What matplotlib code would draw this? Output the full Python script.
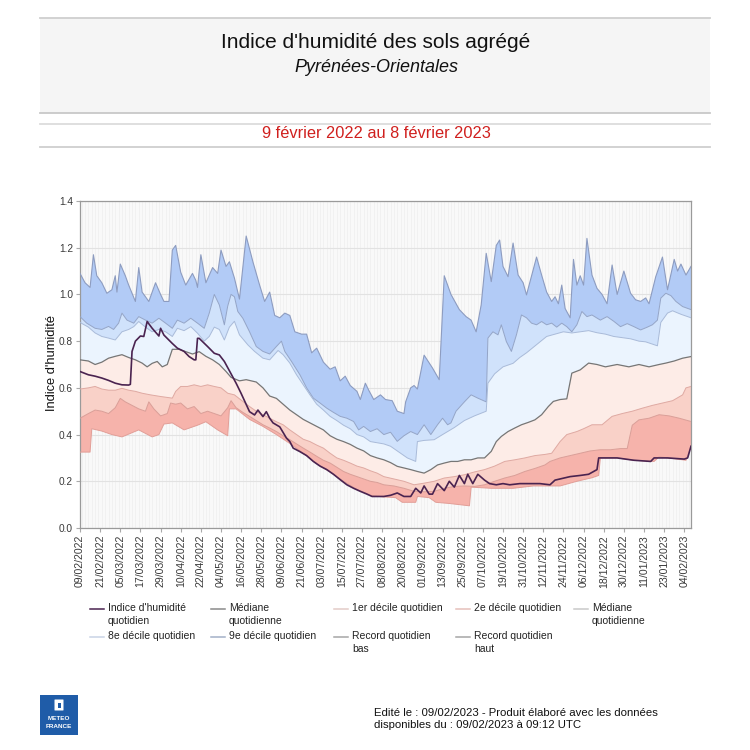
import matplotlib
matplotlib.use('Agg')
import matplotlib.pyplot as plt
import matplotlib.dates as mdates
from matplotlib.patches import Rectangle, FancyBboxPatch
from datetime import datetime, timedelta
import numpy as np

plt.rcParams['font.family'] = ['Liberation Sans', 'DejaVu Sans']

start = datetime(2022, 2, 9)
end_day = 364

# record quotidien haut
rh_days = [0, 3, 6, 8, 10, 13, 16, 19, 21, 22, 24, 27, 29, 33, 35, 37, 41, 45, 48, 50, 53, 55, 57, 60, 63, 67, 69, 70,
           72, 75, 79, 82, 84, 87, 89, 92, 95, 99, 103, 107, 110, 113, 116, 119, 122, 125, 128, 132, 135, 138, 141,
           145, 149, 152, 155, 158, 161, 165, 167, 170, 172, 175, 179, 182, 186, 189, 193, 194, 197, 199, 201, 205,
           210, 214, 217, 221, 226, 230, 233, 236, 239, 242, 245, 248, 250, 252, 255, 258, 261, 264, 266, 272, 275,
           278, 281, 283, 285, 287, 289, 292, 294, 296, 298, 300, 302, 305, 308, 311, 314, 317, 320, 324, 328, 331,
           334, 337, 339, 343, 347, 350, 354, 356, 358, 361, 364]
rh_vals = [1.09, 1.05, 1.03, 1.17, 1.08, 1.05, 1.005, 1.02, 1.08, 1.01, 1.13, 1.08, 1.04, 0.97, 1.115, 1.01, 0.97,
           1.05, 1.0, 0.97, 0.97, 1.19, 1.21, 1.095, 1.04, 1.09, 1.06, 1.03, 1.17, 1.05, 1.115, 1.09, 1.19, 1.12,
           1.14, 1.07, 0.98, 1.25, 1.14, 1.04, 0.97, 1.01, 0.91, 0.90, 0.92, 0.91, 0.84, 0.83, 0.83, 0.75, 0.77,
           0.71, 0.68, 0.69, 0.63, 0.65, 0.61, 0.585, 0.55, 0.62, 0.59, 0.55, 0.57, 0.55, 0.545, 0.50, 0.49, 0.54,
           0.60, 0.61, 0.595, 0.74, 0.685, 0.635, 1.08, 1.0, 0.935, 0.905, 0.89, 0.84, 0.955, 1.176, 1.055, 1.21,
           1.233, 1.12, 1.076, 1.22, 1.083, 1.05, 0.998, 1.16, 1.083, 1.01, 0.97, 0.99, 0.96, 1.04, 0.94, 0.90,
           1.15, 1.04, 1.08, 1.04, 1.24, 1.083, 1.026, 1.0, 0.96, 1.126, 1.0, 1.1, 1.005, 0.977, 0.97, 0.985, 0.96,
           1.076, 1.16, 1.02, 1.15, 1.1, 1.13, 1.083, 1.12]

# 9e decile
d9_days = [0, 4, 9, 13, 17, 20, 23, 25, 28, 32, 35, 39, 43, 47, 51, 55, 58, 62, 66, 70, 74, 77, 80, 83, 86, 88, 90,
           92, 94, 97, 101, 105, 109, 113, 117, 120, 122, 126, 131, 135, 139, 143, 147, 151, 155, 159, 163, 166,
           169, 173, 177, 181, 185, 189, 193, 197, 201, 205, 209, 213, 216, 219, 221, 224, 229, 233, 237, 242, 243,
           246, 249, 251, 254, 257, 260, 263, 266, 269, 272, 275, 278, 281, 284, 287, 290, 293, 296, 299, 302, 305,
           310, 314, 318, 322, 326, 330, 334, 338, 341, 344, 346, 349, 352, 355, 359, 364]
d9_vals = [0.905, 0.877, 0.855, 0.85, 0.863, 0.85, 0.877, 0.92, 0.89, 0.877, 0.905, 0.89, 0.877, 0.898, 0.877,
           0.855, 0.89, 0.877, 0.898, 0.877, 0.855, 0.92, 1.0, 0.955, 0.87, 0.95, 1.0, 0.99, 0.927, 0.898, 0.84,
           0.777, 0.756, 0.745, 0.777, 0.80, 0.756, 0.713, 0.656, 0.60, 0.556, 0.535, 0.513, 0.495, 0.478, 0.47,
           0.456, 0.42, 0.435, 0.413, 0.425, 0.40, 0.41, 0.371, 0.395, 0.413, 0.40, 0.442, 0.40, 0.442, 0.47, 0.442,
           0.45, 0.50, 0.54, 0.57, 0.556, 0.54, 0.813, 0.84, 0.827, 0.87, 0.798, 0.756, 0.827, 0.912, 0.90, 0.877,
           0.87, 0.884, 0.87, 0.877, 0.86, 0.877, 0.862, 0.84, 0.87, 0.927, 0.905, 0.912, 0.89, 0.905, 0.885,
           0.862, 0.875, 0.862, 0.848, 0.86, 0.87, 0.89, 0.984, 1.005, 0.995, 0.97, 0.948, 0.935]

# 8e decile
d8_days = [0, 5, 9, 13, 17, 21, 25, 29, 32, 35, 39, 43, 47, 51, 55, 58, 62, 66, 70, 74, 77, 80, 83, 86, 89, 92, 95,
           100, 104, 109, 113, 118, 121, 125, 129, 133, 137, 141, 145, 149, 153, 157, 161, 165, 169, 173, 177, 181,
           185, 189, 195, 200, 201, 205, 211, 216, 223, 229, 235, 242, 243, 247, 252, 258, 262, 266, 272, 278, 283,
           288, 293, 298, 303, 308, 313, 318, 323, 328, 333, 337, 344, 346, 350, 353, 358, 364]
d8_vals = [0.88, 0.86, 0.835, 0.82, 0.813, 0.805, 0.84, 0.85, 0.862, 0.884, 0.86, 0.84, 0.85, 0.84, 0.82, 0.855,
           0.845, 0.862, 0.834, 0.80, 0.82, 0.86, 0.85, 0.805, 0.86, 0.885, 0.827, 0.784, 0.756, 0.727, 0.72, 0.76,
           0.742, 0.706, 0.656, 0.613, 0.57, 0.53, 0.505, 0.478, 0.46, 0.44, 0.425, 0.40, 0.39, 0.37, 0.365, 0.36,
           0.35, 0.33, 0.30, 0.285, 0.37, 0.375, 0.378, 0.40, 0.43, 0.46, 0.48, 0.50, 0.62, 0.66, 0.69, 0.705, 0.73,
           0.75, 0.785, 0.82, 0.83, 0.84, 0.835, 0.84, 0.845, 0.836, 0.83, 0.82, 0.815, 0.81, 0.80, 0.797, 0.78,
           0.88, 0.92, 0.93, 0.915, 0.90]

# mediane quotidienne
med_days = [0, 5, 9, 13, 17, 21, 25, 29, 33, 37, 40, 43, 46, 49, 52, 55, 59, 63, 67, 71, 75, 79, 83, 87, 90, 95, 99,
            105, 109, 113, 117, 121, 125, 129, 133, 137, 141, 145, 149, 153, 157, 161, 165, 169, 173, 177, 181, 185,
            189, 193, 197, 201, 205, 209, 213, 217, 221, 225, 229, 233, 237, 241, 245, 248, 251, 255, 259, 263, 267,
            271, 275, 279, 282, 286, 290, 293, 298, 303, 308, 313, 320, 327, 333, 339, 345, 349, 354, 359, 364]
med_vals = [0.72, 0.715, 0.70, 0.71, 0.727, 0.735, 0.742, 0.73, 0.72, 0.706, 0.69, 0.705, 0.713, 0.69, 0.70, 0.765,
            0.765, 0.755, 0.745, 0.755, 0.735, 0.72, 0.70, 0.67, 0.645, 0.63, 0.635, 0.625, 0.60, 0.565, 0.555,
            0.53, 0.505, 0.485, 0.465, 0.45, 0.435, 0.42, 0.395, 0.38, 0.37, 0.358, 0.342, 0.33, 0.31, 0.30, 0.292,
            0.28, 0.264, 0.257, 0.25, 0.242, 0.235, 0.25, 0.27, 0.278, 0.285, 0.285, 0.292, 0.292, 0.30, 0.30,
            0.328, 0.37, 0.392, 0.413, 0.428, 0.442, 0.452, 0.463, 0.485, 0.52, 0.542, 0.55, 0.553, 0.663, 0.677,
            0.706, 0.70, 0.69, 0.70, 0.69, 0.70, 0.69, 0.70, 0.706, 0.715, 0.727, 0.734]

# 2e decile
d2_days = [0, 5, 9, 13, 17, 21, 25, 29, 33, 37, 42, 48, 55, 57, 60, 64, 68, 72, 76, 80, 84, 88, 92, 97, 101, 105,
           109, 113, 117, 121, 125, 129, 133, 137, 141, 145, 149, 153, 157, 161, 165, 169, 173, 177, 181, 187, 193,
           199, 205, 211, 217, 223, 229, 235, 241, 247, 253, 259, 265, 271, 277, 281, 286, 290, 296, 300, 305, 311,
           317, 323, 329, 335, 341, 347, 353, 359, 361, 364]
d2_vals = [0.595, 0.60, 0.606, 0.595, 0.59, 0.59, 0.598, 0.59, 0.585, 0.577, 0.57, 0.563, 0.556, 0.585, 0.606,
           0.606, 0.613, 0.606, 0.613, 0.606, 0.60, 0.577, 0.57, 0.542, 0.52, 0.50, 0.485, 0.47, 0.455, 0.442,
           0.42, 0.40, 0.38, 0.37, 0.355, 0.342, 0.32, 0.30, 0.29, 0.278, 0.265, 0.257, 0.245, 0.235, 0.22, 0.21,
           0.20, 0.185, 0.192, 0.20, 0.214, 0.22, 0.228, 0.24, 0.25, 0.265, 0.285, 0.292, 0.30, 0.31, 0.315, 0.32,
           0.37, 0.40, 0.413, 0.425, 0.442, 0.442, 0.478, 0.49, 0.50, 0.513, 0.525, 0.535, 0.545, 0.57, 0.60, 0.606]

# 1er decile
d1_days = [0, 5, 9, 13, 17, 21, 24, 27, 31, 35, 39, 41, 44, 48, 52, 54, 57, 60, 64, 68, 72, 76, 80, 84, 88, 90, 93,
           97, 101, 105, 109, 113, 117, 121, 125, 129, 133, 137, 141, 145, 149, 153, 157, 161, 165, 169, 173, 177,
           181, 187, 193, 199, 205, 211, 217, 223, 229, 235, 241, 247, 253, 259, 265, 271, 277, 280, 286, 292, 298,
           304, 310, 316, 322, 326, 329, 333, 339, 345, 351, 357, 364]
d1_vals = [0.47, 0.49, 0.505, 0.50, 0.49, 0.515, 0.555, 0.54, 0.525, 0.51, 0.50, 0.54, 0.51, 0.48, 0.49, 0.535,
           0.53, 0.535, 0.51, 0.52, 0.49, 0.50, 0.49, 0.48, 0.515, 0.545, 0.515, 0.495, 0.478, 0.46, 0.442, 0.428,
           0.413, 0.395, 0.378, 0.36, 0.342, 0.325, 0.307, 0.29, 0.278, 0.26, 0.242, 0.23, 0.22, 0.21, 0.20, 0.195,
           0.185, 0.18, 0.17, 0.157, 0.155, 0.157, 0.17, 0.178, 0.18, 0.178, 0.185, 0.20, 0.214, 0.225, 0.242,
           0.255, 0.27, 0.285, 0.30, 0.31, 0.32, 0.33, 0.335, 0.335, 0.34, 0.34, 0.44, 0.463, 0.47, 0.485, 0.48,
           0.47, 0.456]

# record quotidien bas
rl_days = [0, 6, 7, 13, 19, 25, 35, 43, 47, 50, 55, 62, 70, 75, 82, 88, 89, 93, 101, 109, 117, 125, 133, 141, 149,
           157, 165, 173, 181, 188, 192, 200, 201, 208, 212, 220, 232, 233, 245, 258, 270, 286, 296, 305, 309, 310,
           320, 330, 342, 345, 361, 364]
rl_vals = [0.325, 0.325, 0.425, 0.415, 0.40, 0.39, 0.42, 0.39, 0.40, 0.445, 0.45, 0.42, 0.44, 0.455, 0.42, 0.395,
           0.51, 0.51, 0.465, 0.435, 0.40, 0.362, 0.32, 0.275, 0.24, 0.20, 0.165, 0.14, 0.133, 0.13, 0.11, 0.11,
           0.135, 0.13, 0.11, 0.105, 0.095, 0.175, 0.17, 0.17, 0.18, 0.18, 0.20, 0.215, 0.225, 0.30, 0.30, 0.29,
           0.285, 0.305, 0.29, 0.35]

# indice d'humidite quotidien 2022-2023
idx_days = [0, 5, 9, 13, 17, 21, 25, 29, 30, 31, 33, 36, 38, 40, 43, 47, 48, 50, 55, 58, 62, 65, 68, 69, 70, 71, 76,
            80, 83, 86, 90, 93, 96, 101, 104, 106, 109, 111, 113, 115, 119, 123, 125, 127, 131, 135, 139, 143, 147,
            151, 155, 159, 163, 167, 171, 174, 177, 181, 185, 189, 193, 197, 200, 203, 205, 208, 210, 213, 217, 220,
            223, 226, 229, 231, 234, 237, 241, 244, 248, 252, 256, 262, 268, 274, 280, 283, 286, 292, 298, 303,
            308, 309, 313, 320, 330, 340, 342, 350, 360, 362, 364]
idx_vals = [0.67, 0.656, 0.65, 0.642, 0.632, 0.62, 0.613, 0.612, 0.615, 0.756, 0.80, 0.822, 0.82, 0.884, 0.855,
            0.822, 0.855, 0.826, 0.79, 0.77, 0.756, 0.734, 0.72, 0.72, 0.812, 0.812, 0.777, 0.748, 0.741, 0.713,
            0.66, 0.62, 0.576, 0.498, 0.484, 0.505, 0.477, 0.498, 0.47, 0.45, 0.433, 0.385, 0.37, 0.342, 0.327,
            0.31, 0.285, 0.265, 0.25, 0.23, 0.207, 0.185, 0.17, 0.157, 0.145, 0.135, 0.135, 0.135, 0.14, 0.15, 0.135,
            0.135, 0.17, 0.15, 0.18, 0.145, 0.145, 0.19, 0.16, 0.20, 0.175, 0.225, 0.19, 0.23, 0.19, 0.23, 0.205,
            0.19, 0.185, 0.19, 0.185, 0.19, 0.19, 0.19, 0.185, 0.205, 0.21, 0.22, 0.225, 0.23, 0.25, 0.30, 0.30,
            0.30, 0.29, 0.285, 0.30, 0.30, 0.295, 0.30, 0.35]

tick_labels = ['09/02/2022', '21/02/2022', '05/03/2022', '17/03/2022', '29/03/2022', '10/04/2022', '22/04/2022',
               '04/05/2022', '16/05/2022', '28/05/2022', '09/06/2022', '21/06/2022', '03/07/2022', '15/07/2022',
               '27/07/2022', '08/08/2022', '20/08/2022', '01/09/2022', '13/09/2022', '25/09/2022', '07/10/2022',
               '19/10/2022', '31/10/2022', '12/11/2022', '24/11/2022', '06/12/2022', '18/12/2022', '30/12/2022',
               '11/01/2023', '23/01/2023', '04/02/2023']

legend_rows = [["Indice d'humidité\nquotidien", "Médiane\nquotidienne", "1er décile quotidien",
                "2e décile quotidien", "Médiane\nquotidienne"],
               ["8e décile quotidien", "9e décile quotidien", "Record quotidien\nbas", "Record quotidien\nhaut"]]
legend_colors = [['#4a2350', '#8a8a8a', '#e3cbc7', '#e6c0ba', '#c9c9c9'],
                 ['#c9d3e6', '#a3b0c8', '#a6a6a6', '#a6a6a6']]


def to_x(days):
    return mdates.date2num([start + timedelta(days=d) for d in days])


series = [(rh_days, rh_vals), (d9_days, d9_vals), (d8_days, d8_vals), (med_days, med_vals),
          (d2_days, d2_vals), (d1_days, d1_vals), (rl_days, rl_vals)]
band_colors = ['#b2cbf6', '#d0e2fb', '#ebf4fe', '#fdece7', '#f9d1c8', '#f6b3ab']
line_colors = ['#8d9cc0', '#93a4c7', '#a8bad9', '#767676', '#dfa9a2', '#da9e97', '#e29e97']
line_widths = [0.8, 0.7, 0.7, 0.9, 0.7, 0.7, 0.7]

fig = plt.figure(figsize=(7.5, 7.5), dpi=100)

# decor in pixel coordinates
bg = fig.add_axes([0, 0, 1, 1], zorder=-1)
bg.set_xlim(0, 750)
bg.set_ylim(750, 0)
bg.axis('off')
bg.add_patch(Rectangle((40, 18), 670, 95, facecolor='#f5f5f5', edgecolor='none'))
for yy, c in [(18, '#cfcfcf'), (113, '#c8c8c8'), (124, '#dcdcdc'), (147, '#cfcfcf')]:
    bg.plot([40, 710], [yy, yy], color=c, lw=1.3)
bg.text(376, 43, "Indice d'humidité des sols agrégé", fontsize=15, ha='center', va='center', color='#111111')
bg.text(376, 67, "Pyrénées-Orientales", fontsize=13, style='italic', ha='center', va='center', color='#111111')
bg.text(376, 134, "9 février 2022 au 8 février 2023", fontsize=11.8, ha='center', va='center', color='#d0201e')
bg.text(52, 363, "Indice d'humidité", fontsize=9.3, rotation=90, ha='center', va='center', color='#111111')

# legend
col_x = [90, 211, 334, 456, 574]
row_y = [609, 637]
for r, labels in enumerate(legend_rows):
    for c, lab in enumerate(labels):
        x0 = col_x[c]
        bg.plot([x0, x0 + 14], [row_y[r], row_y[r]], color=legend_colors[r][c], lw=1.1)
        bg.text(x0 + 18, row_y[r] - 6, lab, fontsize=7.5, ha='left', va='top', color='#222222', linespacing=1.35)

# footer
bg.add_patch(Rectangle((40, 695), 38, 40, facecolor='#1f5ca8', edgecolor='none'))
bg.add_patch(FancyBboxPatch((55, 700), 8, 10, boxstyle='round,pad=0.5', facecolor='white', edgecolor='none'))
bg.add_patch(Rectangle((57.5, 702.5), 3, 5, facecolor='#1f5ca8', edgecolor='none'))
bg.text(59, 719, "METEO", fontsize=4.6, weight='bold', color='white', ha='center', va='center')
bg.text(59, 726, "FRANCE", fontsize=4.6, weight='bold', color='white', ha='center', va='center')
bg.text(374, 719, "Edité le : 09/02/2023 - Produit élaboré avec les données\n"
        "disponibles du : 09/02/2023 à 09:12 UTC", fontsize=8.2, ha='left', va='center',
        color='#111111', linespacing=1.2)

# main chart
ax = fig.add_axes([80 / 750, 1 - 528 / 750, 611 / 750, 327 / 750])
ax.set_facecolor('#f9f9f9')

for i in range(len(series) - 1):
    xu, yu = to_x(series[i][0]), np.array(series[i][1])
    xl, yl = to_x(series[i + 1][0]), np.array(series[i + 1][1])
    ax.fill(np.concatenate([xu, xl[::-1]]), np.concatenate([yu, yl[::-1]]),
            facecolor=band_colors[i], edgecolor='none', zorder=2)

for (d, v), c, w in zip(series, line_colors, line_widths):
    ax.plot(to_x(d), v, color=c, lw=w, zorder=3)

ax.plot(to_x(idx_days), idx_vals, color='#4a2350', lw=1.2, zorder=4)

tick_pos = mdates.date2num([datetime.strptime(t, '%d/%m/%Y') for t in tick_labels])
ax.set_xticks(tick_pos)
ax.set_xticklabels(tick_labels, rotation=90, fontsize=7.6, color='#3a3a3a')
ax.xaxis.set_minor_locator(mdates.DayLocator(interval=2))
ax.set_xlim(to_x([0])[0], to_x([end_day])[0])
ax.set_ylim(0, 1.4)
ax.set_yticks(np.arange(0, 1.41, 0.2))
ax.set_yticklabels(['%.1f' % t for t in np.arange(0, 1.41, 0.2)], fontsize=7.3, color='#3a3a3a')
ax.tick_params(axis='both', which='major', length=3, color='#aaaaaa', pad=2)
ax.tick_params(axis='x', which='minor', length=0)
ax.grid(which='minor', axis='x', color='#f0f0f0', lw=0.6, zorder=0)
ax.grid(which='major', axis='y', color='#e2e2e2', lw=0.8, zorder=0)
ax.set_axisbelow(True)
for s in ax.spines.values():
    s.set_color('#9a9a9a')
    s.set_linewidth(0.9)

plt.savefig('out.png', dpi=100)
